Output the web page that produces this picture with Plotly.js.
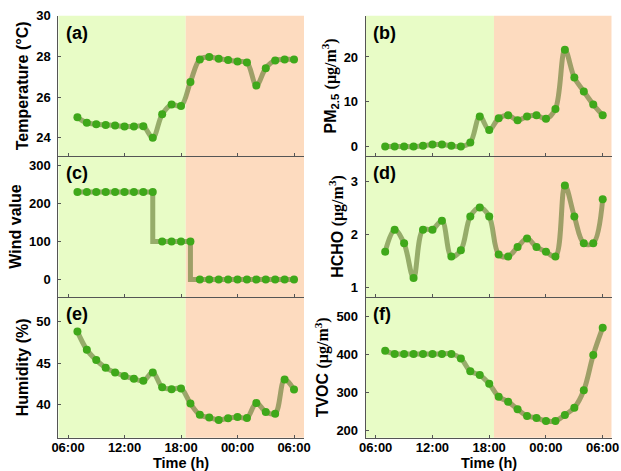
<!DOCTYPE html>
<html><head><meta charset="utf-8">
<script src="https://cdn.plot.ly/plotly-3.0.1.min.js"></script>
<style>html,body{margin:0;padding:0;background:#fff}#chart{width:621px;height:471px}</style>
</head><body><div id="chart"></div>
<script>
// Hours: 07:00 on day 1 (7) through 06:00 on day 2 (30)
const hours = [7,8,9,10,11,12,13,14,15,16,17,18,19,20,21,22,23,24,25,26,27,28,29,30];
const tickHours = [6,12,18,24,30];
const tickLabels = ["06:00","12:00","18:00","00:00","06:00"];
const temperature = [25.0,24.73,24.66,24.63,24.6,24.55,24.55,24.56,24.0,25.15,25.63,25.56,26.74,27.85,27.97,27.88,27.82,27.75,27.7,26.57,27.42,27.8,27.85,27.85];
const pm25 = [0,0,0,0,0.2,0.45,0.45,0.2,0,0.9,6.7,3.7,6.3,7.0,5.9,6.7,7.0,6.2,8.4,21.6,15.4,12.3,9.4,7.0];
const wind = [230,230,230,230,230,230,230,230,230,100,100,100,100,0,0,0,0,0,0,0,0,0,0,0];
const hcho = [1.67,2.09,1.83,1.17,2.09,2.09,2.26,1.58,1.70,2.34,2.51,2.34,1.62,1.58,1.76,1.92,1.76,1.67,1.58,2.93,2.34,1.83,1.83,2.67];
const humidity = [48.83,46.65,45.4,44.48,43.9,43.47,43.15,42.9,43.9,42.14,41.9,41.98,40.16,38.8,38.47,38.19,38.39,38.55,38.43,40.24,39.15,38.95,43.06,41.85];
const tvoc = [409,401,401,401,401,401,401,401,389,355,345,322,288,275,255,237,232,224,224,240,259,305,398,470];
const dayNightSplit = 18.5;
const panelLabels = ["(a)","(b)","(c)","(d)","(e)","(f)"];
const xTitle = "Time (h)";
const yTitles = [
  "Temperature (°C)",
  "PM<sub>2.5</sub> <span style=\"font-family:Liberation Serif\">(μg/m<sup>3</sup>)</span>",
  "Wind value",
  "HCHO <span style=\"font-family:Liberation Serif\">(μg/m<sup>3</sup>)</span>",
  "Humidity (%)",
  "TVOC <span style=\"font-family:Liberation Serif\">(μg/m<sup>3</sup>)</span>"
];
const series = [temperature, pm25, wind, hcho, humidity, tvoc];
const yRanges = [[23.1,30],[-2.1,29.2],[-46,325],[0.81,3.49],[36.05,53.0],[180,551]];
const yTicks = [[24,26,28,30],[0,10,20],[0,100,200,300],[1,2,3],[40,45,50],[200,300,400,500]];

const W = 621, H = 471;
const colX = [[58.3,304],[365.7,611.7]];
const rowY = [[15.7,156],[156,297],[297,437.7]];
const xRanges = [[4.97,31.06],[4.94,30.95]];
const FONT = "Liberation Sans, Arial, sans-serif";

const data = [], shapes = [], annotations = [];
const layout = {
  width: W, height: H, margin:{l:0,r:0,t:0,b:0},
  paper_bgcolor:"#ffffff", plot_bgcolor:"rgba(0,0,0,0)",
  showlegend:false,
  font:{family:FONT, size:13, color:"#000", weight:"bold"}
};
for (let i=0;i<6;i++){
  const col = i%2, row = Math.floor(i/2);
  const n = i+1, sx = n===1?"":String(n);
  const xa = "x"+sx, ya = "y"+sx;
  data.push({
    x: hours, y: series[i], xaxis: xa, yaxis: ya, type:"scatter",
    mode:"lines+markers",
    line:{color:"rgba(95,118,45,0.6)", width:5, shape: i===2?"vh":"spline", smoothing: i===2?0:1},
    marker:{color:"#3fa81a", size:8}
  });
  layout["xaxis"+sx] = {
    domain:[colX[col][0]/W, colX[col][1]/W],
    anchor: ya, range: xRanges[col], tickvals: tickHours, ticktext: tickLabels,
    showticklabels: row===2, ticks:"inside", ticklen:3, tickcolor:"#555", ticklabelstandoff:-2,
    showline:true, linecolor:"#555", linewidth:1, showgrid:false, zeroline:false,
    tickfont:{family:FONT,size:13,weight:"bold",color:"#000"}
  };
  layout["yaxis"+sx] = {
    domain:[1-rowY[row][1]/H, 1-rowY[row][0]/H],
    anchor: xa, range: yRanges[i], tickvals: yTicks[i],
    ticks:"inside", ticklen:3, tickcolor:"#555", ticklabelstandoff:4,
    showline:true, linecolor:"#555", linewidth:1, showgrid:false, zeroline:false,
    tickfont:{family:FONT,size:13,weight:"bold",color:"#000"},
    title:{text:yTitles[i], font:{family:FONT,size:16,weight:"bold"}, standoff:3}
  };
  shapes.push({type:"rect", xref:xa, yref:ya+" domain", x0:xRanges[col][0], x1:dayNightSplit, y0:0, y1:1,
    fillcolor:"#e8fcc6", line:{width:0}, layer:"below"});
  shapes.push({type:"rect", xref:xa, yref:ya+" domain", x0:dayNightSplit, x1:xRanges[col][1], y0:0, y1:1,
    fillcolor:"#fddbbf", line:{width:0}, layer:"below"});
  annotations.push({xref:xa+" domain", yref:ya+" domain", x:0.022, y:0.877, xanchor:"left", yanchor:"middle",
    text:panelLabels[i], showarrow:false, font:{family:FONT,size:18,weight:"bold",color:"#000"}});
  if (row===2){
    annotations.push({xref:xa+" domain", yref:"paper", x:0.5, y:1-462.5/H, xanchor:"center", yanchor:"middle",
      borderpad:0, text:xTitle, showarrow:false, font:{family:FONT,size:14.5,weight:"bold",color:"#000"}});
  }
}
layout.shapes = shapes;
layout.annotations = annotations;
Plotly.newPlot("chart", data, layout, {displayModeBar:false, staticPlot:true});
</script></body></html>
